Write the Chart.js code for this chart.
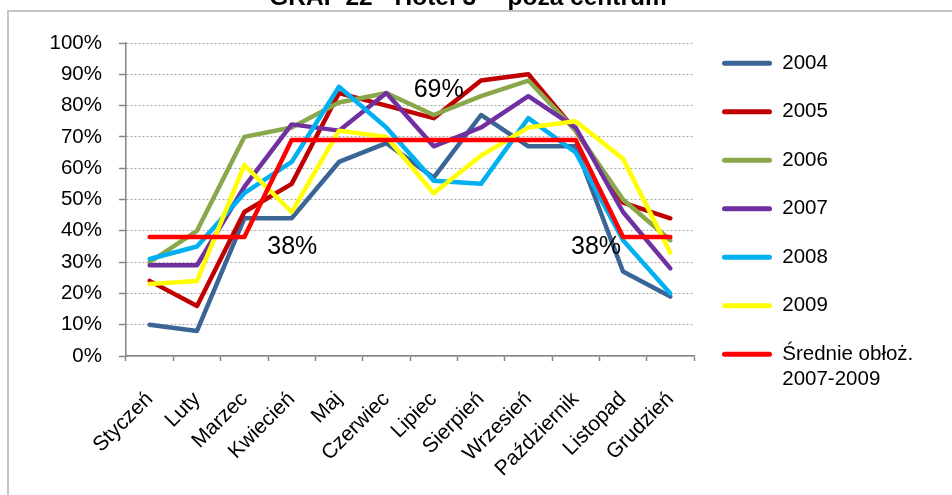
<!DOCTYPE html>
<html lang="pl">
<head>
<meta charset="utf-8">
<title>GRAF 22 - Hotel 3* - poza centrum</title>
<script src="https://cdn.jsdelivr.net/npm/chart.js@4"></script>
<style>
  html, body { margin: 0; padding: 0; background: #fff; overflow: hidden; }
  body { width: 952px; height: 495px; position: relative; font-family: "Liberation Sans", Arial, sans-serif; }
  #frame {
    position: absolute; left: 7px; top: 10px; right: -5px; bottom: -5px;
    border-top: 2px solid #c6c6c6; border-left: 2px solid #c6c6c6;
  }
  #wrap { position: absolute; left: 0; top: -12px; width: 952px; height: 507px; }
</style>
</head>
<body>
<div id="frame"></div>
<div id="wrap"><canvas id="occupancy"></canvas></div>
<script>
const months = ['Styczeń', 'Luty', 'Marzec', 'Kwiecień', 'Maj', 'Czerwiec', 'Lipiec',
  'Sierpień', 'Wrzesień', 'Październik', 'Listopad', 'Grudzień'];

// obłożenie w % dla kolejnych lat
const occ2004 = [10, 8, 44, 44, 62, 68, 57, 77, 67, 67, 27, 19];
const occ2005 = [24, 16, 46, 55, 84, 80, 76, 88, 90, 72, 49, 44];
const occ2006 = [30, 40, 70, 73, 81, 84, 77, 83, 88, 72, 50, 37];
const occ2007 = [29, 29, 54, 74, 72, 84, 67, 73, 83, 73, 46, 28];
const occ2008 = [31, 35, 52, 62, 86, 73, 56, 55, 76, 65, 37, 20];
const occ2009 = [23, 24, 61, 46, 72, 70, 52, 64, 73, 75, 63, 33];
const avg0709 = [38, 38, 38, 69, 69, 69, 69, 69, 69, 69, 38, 38];

const yTicks = [0, 10, 20, 30, 40, 50, 60, 70, 80, 90, 100];

const FONT = '"Liberation Sans", Arial, sans-serif';

function line(label, data, color, order) {
  return {
    label: label,
    data: data,
    borderColor: color,
    backgroundColor: color,
    borderWidth: 4.5,
    pointRadius: 0,
    tension: 0,
    borderJoinStyle: 'round',
    borderCapStyle: 'round',
    order: order
  };
}

// podpisy średniej: indeks miesiąca + przesunięcie tekstu
const avgLabels = [
  { index: 2, dx: 48, dy: 10 },
  { index: 6, dx: 5, dy: -50 },
  { index: 10, dx: -27, dy: 10 }
];

const avgLabelPlugin = {
  id: 'avgLabels',
  afterDatasetsDraw(chart) {
    const ctx = chart.ctx;
    const xs = chart.scales.x, ys = chart.scales.y;
    ctx.save();
    ctx.font = '25px ' + FONT;
    ctx.fillStyle = '#000';
    ctx.textAlign = 'center';
    ctx.textBaseline = 'middle';
    avgLabels.forEach(l => {
      const v = avg0709[l.index];
      ctx.fillText(v + '%', xs.getPixelForValue(l.index) + l.dx, ys.getPixelForValue(v) + l.dy);
    });
    ctx.restore();
  }
};

new Chart(document.getElementById('occupancy'), {
  type: 'line',
  data: {
    labels: months,
    datasets: [
      line('2004', occ2004, '#3A6595', 7),
      line('2005', occ2005, '#C00000', 6),
      line('2006', occ2006, '#8AA84B', 5),
      line('2007', occ2007, '#7030A0', 4),
      line('2008', occ2008, '#00B0F0', 3),
      line('2009', occ2009, '#FFFF00', 2),
      line('Średnie obłoż.\n2007-2009', avg0709, '#FF0000', 1)
    ]
  },
  options: {
    responsive: true,
    maintainAspectRatio: false,
    animation: false,
    events: [],
    layout: { padding: { left: 16, right: 32, top: 0, bottom: 0 } },
    plugins: {
      title: {
        display: true,
        text: 'GRAF 22 - Hotel 3* - poza centrum',
        color: '#000',
        font: { family: FONT, size: 24.5, weight: 'bold' },
        padding: { top: -4, bottom: 29.6 }
      },
      legend: {
        position: 'right',
        align: 'start',
        title: { display: true, text: '', font: { size: 10 }, padding: { top: 25, bottom: 0 } },
        labels: {
          boxWidth: 50,
          boxHeight: 5,
          padding: 28,
          color: '#000',
          font: { family: FONT, size: 20.5 },
          sort: (a, b) => a.datasetIndex - b.datasetIndex,
          generateLabels: chart => chart.data.datasets.map((ds, i) => ({
            text: ds.label.includes('\n') ? ds.label.split('\n') : ds.label,
            fillStyle: ds.borderColor,
            strokeStyle: ds.borderColor,
            fontColor: '#000',
            lineWidth: 0,
            borderRadius: 2.5,
            hidden: false,
            datasetIndex: i
          }))
        }
      },
      tooltip: { enabled: false }
    },
    scales: {
      x: {
        offset: true,
        grid: { offset: true, drawOnChartArea: false, drawTicks: true, tickLength: 5, tickColor: '#868686', tickWidth: 1.5 },
        border: { color: '#868686', width: 1.5 },
        ticks: {
          autoSkip: false, minRotation: 45, maxRotation: 45, padding: 26,
          color: '#000', font: { family: FONT, size: 21 }
        },
        afterFit: s => { s.height = 139; }
      },
      y: {
        min: 0,
        max: 100,
        afterBuildTicks: s => { s.ticks = yTicks.map(v => ({ value: v })); },
        grid: { color: '#a6a6a6', lineWidth: 1, tickLength: 7, tickColor: '#868686', tickWidth: 1.5 },
        border: { color: '#868686', width: 1.5, dash: [2, 2] },
        ticks: {
          padding: 17, color: '#000', font: { family: FONT, size: 20.5 },
          callback: v => v + '%'
        },
        afterFit: s => { s.width = 110; }
      }
    }
  },
  plugins: [avgLabelPlugin]
});
</script>
</body>
</html>
